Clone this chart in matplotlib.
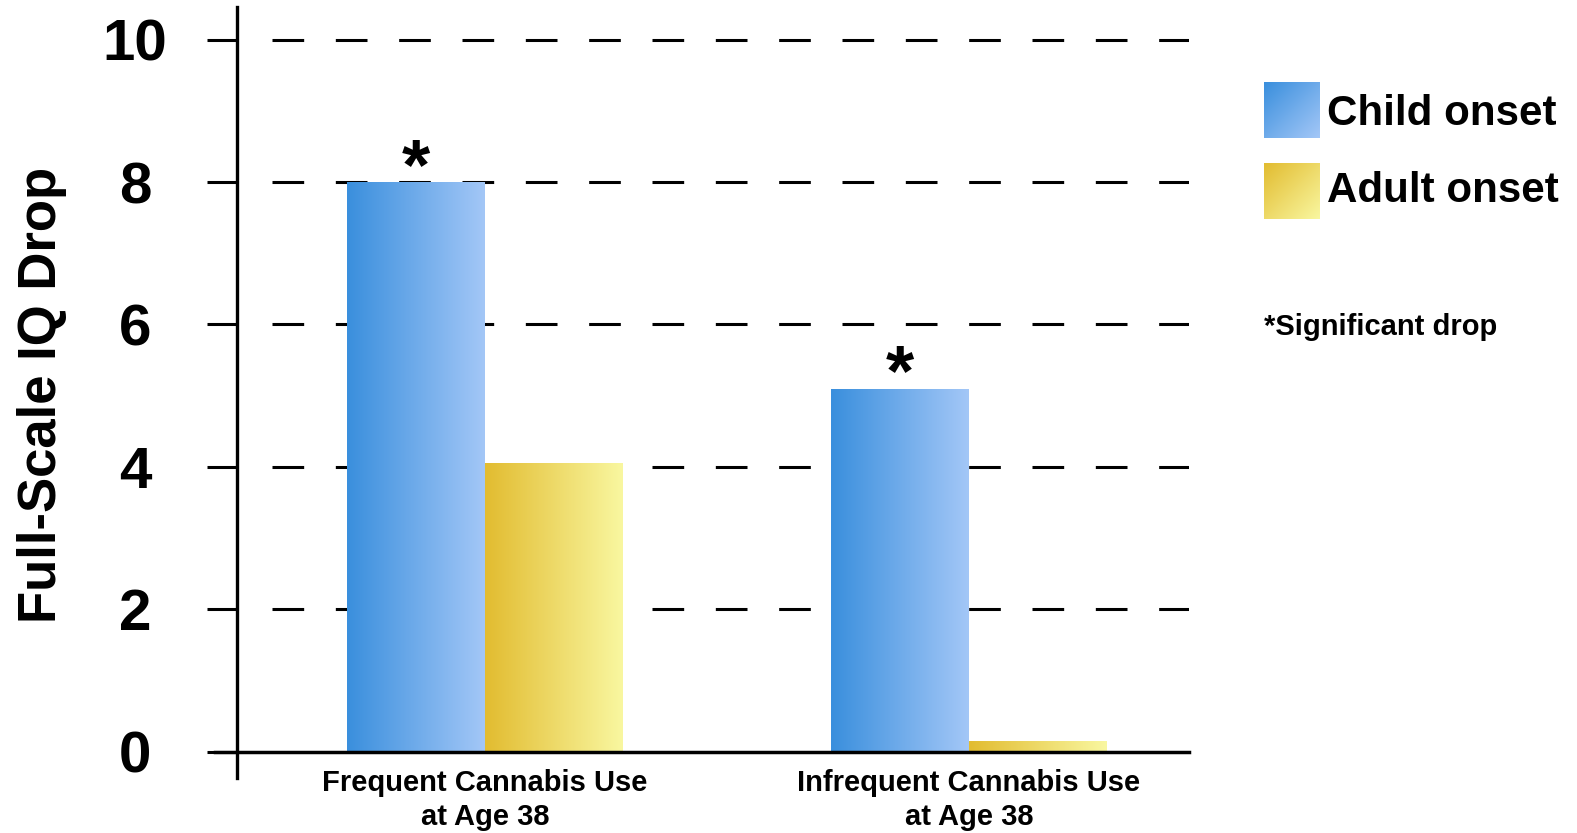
import numpy as np
import matplotlib
matplotlib.use('Agg')
from matplotlib import pyplot as plt
from matplotlib.colors import LinearSegmentedColormap

plt.rcParams['font.family'] = ['Liberation Sans', 'DejaVu Sans']
plt.rcParams['font.weight'] = 'bold'

# IQ drop from childhood to age 38
categories = ['Frequent Cannabis Use\nat Age 38', 'Infrequent Cannabis Use\nat Age 38']
child_onset = [8.0, 5.1]
adult_onset = [4.05, 0.15]
significant = [True, True]   # child onset bars only
series_names = ['Child onset', 'Adult onset']
yticks = [0, 2, 4, 6, 8, 10]

blue_cmap = LinearSegmentedColormap.from_list('blue_grad', ['#3A8FDD', '#A3C7F7'])
gold_cmap = LinearSegmentedColormap.from_list('gold_grad', ['#E2BC30', '#F9F7A0'])

W, H = 1577, 833
fig = plt.figure(figsize=(W / 100, H / 100), dpi=100)
ax = fig.add_axes([237 / W, 1 - 778 / H, (1189 - 237) / W, (778 - 7) / H])

x = np.arange(len(categories))
bw = 0.285


def grad_bar(bars, cmap):
    # horizontal gradient clipped to each bar
    grad = np.linspace(0, 1, 256).reshape(1, -1)
    for b in bars:
        x0, w, h = b.get_x(), b.get_width(), b.get_height()
        im = ax.imshow(grad, cmap=cmap, extent=[x0, x0 + w, 0, h],
                       aspect='auto', zorder=2, interpolation='bicubic')
        im.set_clip_path(b)


bars_c = ax.bar(x - bw / 2, child_onset, bw, facecolor='none', edgecolor='none', zorder=2)
bars_a = ax.bar(x + bw / 2, adult_onset, bw, facecolor='none', edgecolor='none', zorder=2)
grad_bar(bars_c, blue_cmap)
grad_bar(bars_a, gold_cmap)
ax.set_xlim(-0.5124, 1.4545)
ax.set_ylim(-0.372, 10.46)

# dashed gridlines
lw = 2.2
ax.hlines(yticks[1:], -0.4407, 1.4545, colors='black', linewidth=lw,
          linestyles=[(0, (22.8 / lw, 22.8 / lw))], zorder=1)

# asterisks over significant bars
for xi, v, s in zip(x, child_onset, significant):
    if s:
        ax.annotate('*', xy=(xi - bw / 2, v), xytext=(0, -5), textcoords='offset points',
                    ha='center', va='baseline', fontsize=52, fontweight='bold')

# x axis line reaching past the y axis
ax.axhline(0, xmin=-0.0231, xmax=1, color='black', linewidth=2.5, clip_on=False, zorder=3)

for sp in ['top', 'right', 'bottom']:
    ax.spines[sp].set_visible(False)
ax.spines['left'].set_linewidth(2.4)
ax.spines['left'].set_zorder(3)

ax.set_yticks(yticks)
ax.set_yticklabels([str(t) for t in yticks], fontsize=42, fontweight='bold')
ax.tick_params(axis='y', length=21.6, width=2.2, pad=51.8)
for lab in ax.get_yticklabels():
    lab.set_horizontalalignment('center')
ax.set_xticks([])

for xi, cat in zip(x, categories):
    ax.annotate(cat, xy=(xi, 0), xytext=(0, -12.6), textcoords='offset points',
                ha='center', va='top', fontsize=21, fontweight='bold', linespacing=1.27,
                annotation_clip=False)

fig.text(42 / W, 1 - 395 / H, 'Full-Scale IQ Drop', rotation=90, ha='center', va='center',
         fontsize=38, fontweight='bold')

# legend: gradient squares with labels
xx, yy = np.meshgrid(np.linspace(0, 1, 64), np.linspace(0, 1, 64))
diag = (xx + yy) / 2
for name, cmap, top, base in zip(series_names, [blue_cmap, gold_cmap], [82, 163], [125, 202]):
    sq = fig.add_axes([1264 / W, 1 - (top + 56) / H, 56 / W, 56 / H])
    sq.imshow(diag, cmap=cmap, aspect='auto', interpolation='bicubic')
    sq.axis('off')
    fig.text(1327 / W, 1 - base / H, name, ha='left', va='baseline',
             fontsize=30.3, fontweight='bold')

fig.text(1264 / W, 1 - 335 / H, '*Significant drop', ha='left', va='baseline',
         fontsize=21, fontweight='bold')

fig.savefig('out.png', dpi=100)
